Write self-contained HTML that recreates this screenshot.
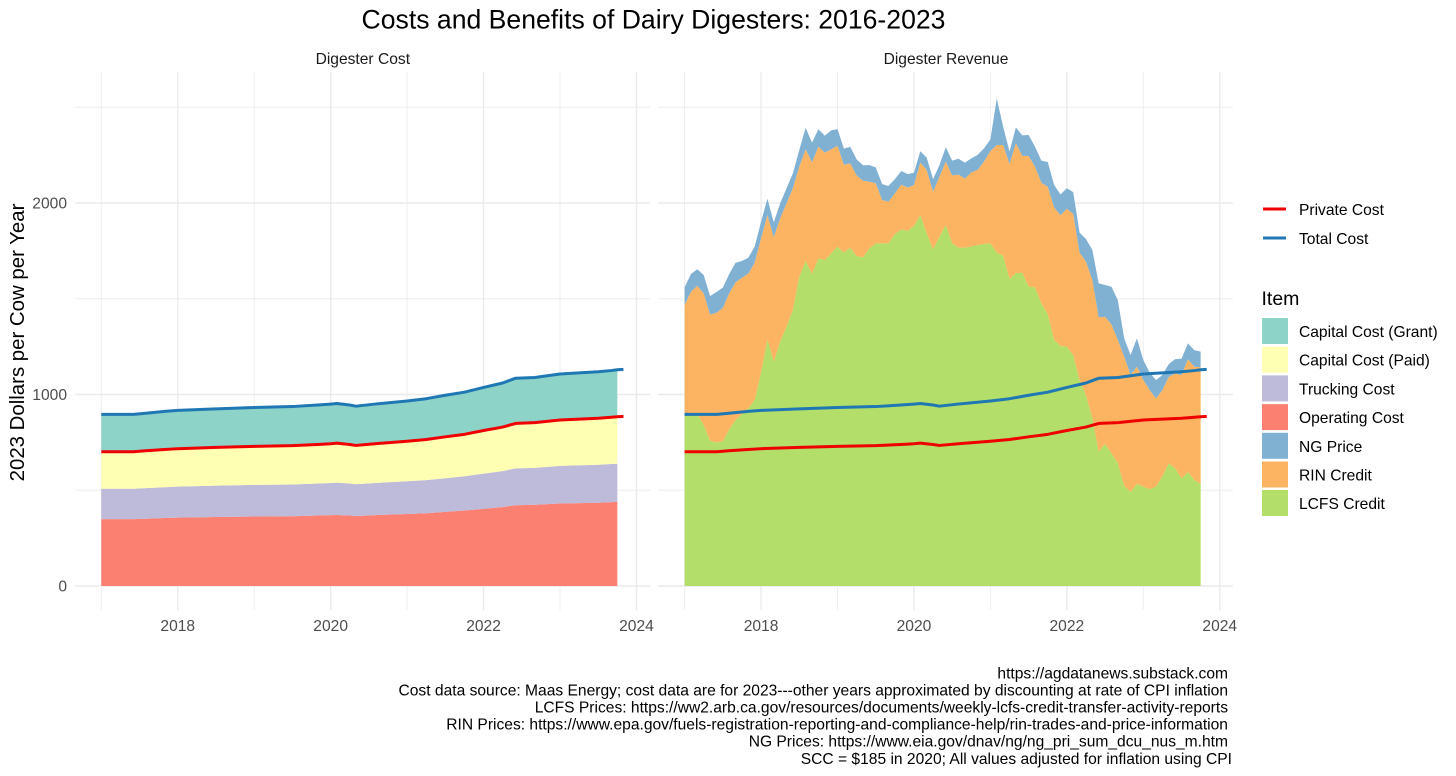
<!DOCTYPE html>
<html lang="en">
<head>
<meta charset="utf-8">
<title>Costs and Benefits of Dairy Digesters: 2016-2023</title>
<style>
html,body{margin:0;padding:0;background:#fff;width:1456px;height:776px;overflow:hidden}
svg{display:block;font-family:"Liberation Sans",Arial,sans-serif}
.tick{font-size:15.6px;fill:#4d4d4d}
.strip{font-size:15.6px;fill:#1a1a1a;text-anchor:middle}
.leg{font-size:15.6px;fill:#000}
.cap{font-size:15.6px;fill:#000;text-anchor:end}
</style>
</head>
<body>
<svg id="chart" width="1456" height="776" viewBox="0 0 1456 776" xmlns="http://www.w3.org/2000/svg">
  <rect width="1456" height="776" fill="#fff"/>
  <text x="653.5" y="28.5" font-size="26.6px" text-anchor="middle" fill="#000">Costs and Benefits of Dairy Digesters: 2016-2023</text>
  <text class="strip" x="362.8" y="64">Digester Cost</text>
  <text class="strip" x="946" y="64">Digester Revenue</text>
  <text x="24" y="342.5" font-size="20.4px" text-anchor="middle" fill="#000" transform="rotate(-90 24 342.5)">2023 Dollars per Cow per Year</text>
  <g id="grid"></g>
  <g id="marks"></g>
  <g id="axes"></g>

  <g>
    <line x1="1263" x2="1286" y1="209" y2="209" stroke="#ee0000" stroke-width="3"/>
    <text class="leg" x="1299" y="215">Private Cost</text>
    <line x1="1263" x2="1286" y1="238" y2="238" stroke="#1f78b4" stroke-width="3"/>
    <text class="leg" x="1299" y="244">Total Cost</text>
  </g>
  <g>
    <text x="1261.5" y="305" font-size="19.5px" fill="#000">Item</text>
    <rect x="1262" y="318" width="26" height="26" fill="#8DD3C7"/>
    <text class="leg" x="1299" y="337">Capital Cost (Grant)</text>
    <rect x="1262" y="346.7" width="26" height="26" fill="#FFFFB3"/>
    <text class="leg" x="1299" y="365.7">Capital Cost (Paid)</text>
    <rect x="1262" y="375.4" width="26" height="26" fill="#BEBADA"/>
    <text class="leg" x="1299" y="394.4">Trucking Cost</text>
    <rect x="1262" y="404.1" width="26" height="26" fill="#FB8072"/>
    <text class="leg" x="1299" y="423.1">Operating Cost</text>
    <rect x="1262" y="432.8" width="26" height="26" fill="#80B1D3"/>
    <text class="leg" x="1299" y="451.8">NG Price</text>
    <rect x="1262" y="461.5" width="26" height="26" fill="#FDB462"/>
    <text class="leg" x="1299" y="480.5">RIN Credit</text>
    <rect x="1262" y="490" width="26" height="26" fill="#B3DE69"/>
    <text class="leg" x="1299" y="509">LCFS Credit</text>
  </g>
  <g>
    <text class="cap" x="1228" y="678.5">https://agdatanews.substack.com</text>
    <text class="cap" x="1228" y="695.5">Cost data source: Maas Energy; cost data are for 2023---other years approximated by discounting at rate of CPI inflation</text>
    <text class="cap" x="1228" y="712.5">LCFS Prices: https://ww2.arb.ca.gov/resources/documents/weekly-lcfs-credit-transfer-activity-reports</text>
    <text class="cap" x="1228" y="729.5">RIN Prices: https://www.epa.gov/fuels-registration-reporting-and-compliance-help/rin-trades-and-price-information</text>
    <text class="cap" x="1228" y="746.5">NG Prices: https://www.eia.gov/dnav/ng/ng_pri_sum_dcu_nus_m.htm</text>
    <text class="cap" x="1232" y="764">SCC = $185 in 2020; All values adjusted for inflation using CPI</text>
  </g>
</svg>
<script>
// ---- Axis tick data ----
const xTickYears = [2018, 2020, 2022, 2024];
const xMinorYears = [2017, 2019, 2021, 2023];
const yTickValues = [0, 1000, 2000];
const yMinorValues = [500, 1500, 2500];

// ---- Cost series: dates (decimal years) and $/cow ----
const costDates = [2017,2017.42,2017.58,2017.83,2018,2018.5,2019,2019.5,2019.83,2020,2020.08,2020.25,2020.33,2020.58,2021,2021.25,2021.5,2021.75,2022,2022.25,2022.33,2022.42,2022.67,2023,2023.5,2023.67,2023.75,2023.83];
const operatingCost = [349,349,351,355,357,360,363,364,368,370,371,368,365,370,376,380,387,394,403,412,417,422,424,431,435,438,439,440];
const truckingCost = [159,159,160,161,162,164,165,166,167,168,169,167,166,168,171,173,176,179,184,188,190,192,193,196,198,199,200,200];
const capitalPaid = [193,193,195,197,198,200,201,203,204,205,206,204,203,205,209,212,216,219,225,230,232,235,236,240,243,244,245,246];
const capitalGrant = [195,195,196,199,200,201,203,204,206,207,207,206,205,207,210,213,217,220,225,230,233,236,236,240,243,244,245,245];
const areaEndDate = 2023.75;

// ---- Revenue series: monthly from January 2017, $/cow ----
const revenueStartYear = 2017;
const lcfsCredit = [897,897,897,841,759,749,756,818,867,898,928,971,1114,1288,1171,1276,1354,1441,1615,1697,1629,1711,1702,1737,1772,1741,1767,1723,1716,1763,1789,1789,1789,1836,1862,1854,1880,1937,1842,1758,1824,1885,1789,1767,1767,1772,1781,1786,1789,1741,1725,1603,1633,1636,1563,1560,1476,1420,1285,1253,1250,1206,1076,997,876,701,742,693,641,522,491,533,519,505,519,574,641,614,562,595,554,533];
const rinCredit = [570,640,670,687,658,678,696,710,719,712,703,717,701,649,650,644,644,636,575,583,583,583,561,543,527,459,440,421,401,348,314,227,218,214,234,226,214,274,330,301,313,331,355,381,360,388,391,430,482,562,578,601,679,611,682,630,630,665,692,683,720,737,665,697,722,702,664,673,644,676,611,612,557,518,461,449,452,496,540,589,591,609];
const ngPrice = [93,92,87,96,97,108,106,101,102,87,83,84,87,86,78,78,79,78,87,113,103,91,89,99,87,84,87,84,80,87,83,83,82,74,71,71,64,59,65,65,61,75,77,83,84,73,79,69,61,243,96,64,83,106,110,104,115,129,117,109,107,114,104,118,157,177,166,197,208,95,104,148,104,91,96,79,66,75,85,83,87,82];

// ---- Axis functions ----
const SVGNS = 'http://www.w3.org/2000/svg';
const panelLeft = {x0: 75, x1: 650, xAt2017: 101.3};
const panelRight = {x0: 658, x1: 1233, xAt2017: 684.6};
const panelTop = 72;
const panelBottom = 610;
const pxPerYear = 76.45;
function xScale(panel, year) { return panel.xAt2017 + (year - 2017) * pxPerYear; }
function yScale(v) { return 586 - v * 0.1915; }

const gridG = document.getElementById('grid');
const marksG = document.getElementById('marks');
const axesG = document.getElementById('axes');

function addLine(parent, x1, y1, x2, y2, color, width) {
  const el = document.createElementNS(SVGNS, 'line');
  el.setAttribute('x1', x1);
  el.setAttribute('y1', y1);
  el.setAttribute('x2', x2);
  el.setAttribute('y2', y2);
  el.setAttribute('stroke', color);
  el.setAttribute('stroke-width', width);
  parent.appendChild(el);
  return el;
}
function addText(parent, x, y, anchor, str) {
  const el = document.createElementNS(SVGNS, 'text');
  el.setAttribute('x', x);
  el.setAttribute('y', y);
  el.setAttribute('text-anchor', anchor);
  el.setAttribute('class', 'tick');
  el.textContent = str;
  parent.appendChild(el);
  return el;
}
function addStackLayer(panel, dates, lower, upper, color, name) {
  const pts = [];
  for (let i = 0; i < dates.length; i++) {
    pts.push(xScale(panel, dates[i]).toFixed(2) + ',' + yScale(upper[i]).toFixed(2));
  }
  for (let i = dates.length - 1; i >= 0; i--) {
    pts.push(xScale(panel, dates[i]).toFixed(2) + ',' + yScale(lower[i]).toFixed(2));
  }
  const el = document.createElementNS(SVGNS, 'polygon');
  el.setAttribute('points', pts.join(' '));
  el.setAttribute('fill', color);
  
  
  marksG.appendChild(el);
}
function addCostLine(panel, dates, values, color, name) {
  const pts = dates.map(function (d, i) {
    return xScale(panel, d).toFixed(2) + ',' + yScale(values[i]).toFixed(2);
  });
  const el = document.createElementNS(SVGNS, 'polyline');
  el.setAttribute('points', pts.join(' '));
  el.setAttribute('fill', 'none');
  el.setAttribute('stroke', color);
  el.setAttribute('stroke-width', '3');
  el.setAttribute('stroke-linejoin', 'round');
  
  
  marksG.appendChild(el);
}

// ---- Gridlines and tick labels ----
[panelLeft, panelRight].forEach(function (panel, pi) {
  const side = pi === 0 ? 'cost' : 'revenue';
  yMinorValues.forEach(function (v) {
    const el = addLine(gridG, panel.x0, yScale(v), panel.x1, yScale(v), '#eeeeee', 1);
    
    
  });
  xMinorYears.forEach(function (yr) {
    const el = addLine(gridG, xScale(panel, yr), panelTop, xScale(panel, yr), panelBottom, '#eeeeee', 1);
    
    
  });
  yTickValues.forEach(function (v) {
    const el = addLine(gridG, panel.x0, yScale(v), panel.x1, yScale(v), '#ebebeb', 1.4);
    
    
  });
  xTickYears.forEach(function (yr) {
    const el = addLine(gridG, xScale(panel, yr), panelTop, xScale(panel, yr), panelBottom, '#ebebeb', 1.4);
    
    
    const t = addText(axesG, xScale(panel, yr), 631, 'middle', String(yr));
    
    
  });
});
yTickValues.forEach(function (v) {
  const t = addText(axesG, 67, yScale(v) + 5.5, 'end', String(v));
  
  
});

// ---- Stacks ----
function cumulate(base, add) { return base.map(function (b, i) { return b + add[i]; }); }

const costZero = costDates.map(function () { return 0; });
const opTop = cumulate(costZero, operatingCost);
const truckTop = cumulate(opTop, truckingCost);
const paidTop = cumulate(truckTop, capitalPaid);
const grantTop = cumulate(paidTop, capitalGrant);
const areaCount = costDates.filter(function (d) { return d <= areaEndDate; }).length;
const areaDates = costDates.slice(0, areaCount);

addStackLayer(panelLeft, areaDates, costZero, opTop, '#FB8072', 'operating-cost-area');
addStackLayer(panelLeft, areaDates, opTop, truckTop, '#BEBADA', 'trucking-cost-area');
addStackLayer(panelLeft, areaDates, truckTop, paidTop, '#FFFFB3', 'capital-paid-area');
addStackLayer(panelLeft, areaDates, paidTop, grantTop, '#8DD3C7', 'capital-grant-area');

const revDates = lcfsCredit.map(function (_, i) { return revenueStartYear + i / 12; });
const revZero = lcfsCredit.map(function () { return 0; });
const lcfsTop = cumulate(revZero, lcfsCredit);
const rinTop = cumulate(lcfsTop, rinCredit);
const ngTop = cumulate(rinTop, ngPrice);

addStackLayer(panelRight, revDates, revZero, lcfsTop, '#B3DE69', 'lcfs-credit-area');
addStackLayer(panelRight, revDates, lcfsTop, rinTop, '#FDB462', 'rin-credit-area');
addStackLayer(panelRight, revDates, rinTop, ngTop, '#80B1D3', 'ng-price-area');

// ---- Cost lines on both panels ----
addCostLine(panelLeft, costDates, paidTop, '#ee0000', 'cost-panel-private-cost-line');
addCostLine(panelLeft, costDates, grantTop, '#1f78b4', 'cost-panel-total-cost-line');
addCostLine(panelRight, costDates, paidTop, '#ee0000', 'revenue-panel-private-cost-line');
addCostLine(panelRight, costDates, grantTop, '#1f78b4', 'revenue-panel-total-cost-line');
</script>
</body>
</html>
